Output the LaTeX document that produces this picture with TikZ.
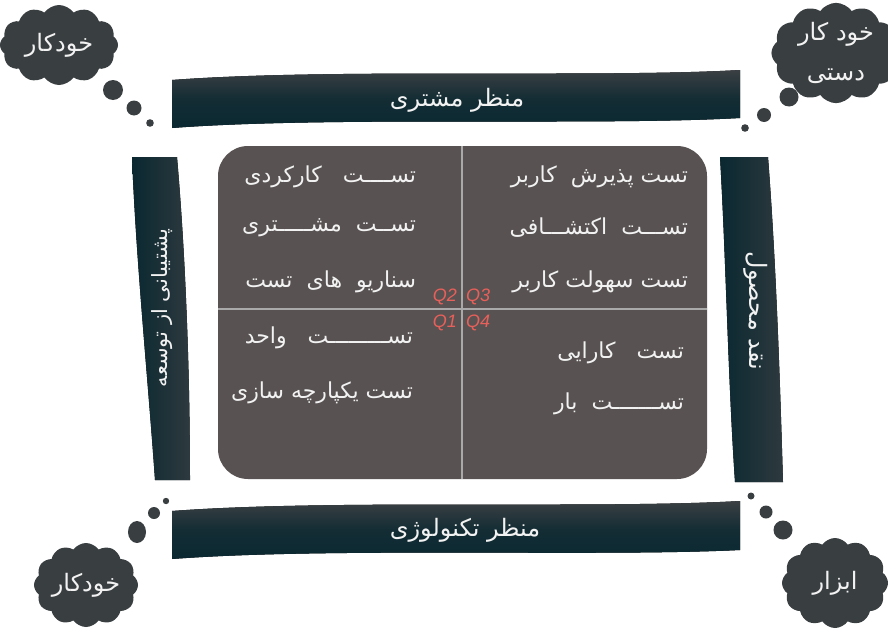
\documentclass[tikz,border=0pt]{standalone}
\usepackage{fontspec}
\usetikzlibrary{shapes.symbols}
\TeXXeTstate=1
\newfontfamily\arabicfont[Script=Arabic]{DejaVu Sans}
\newfontfamily\qfont{Liberation Sans}
\definecolor{boxgray}{HTML}{585252}
\definecolor{cloudgray}{HTML}{393E41}
\definecolor{bandteal}{HTML}{0A2831}
\definecolor{bandgray}{HTML}{3D4144}
\definecolor{qred}{HTML}{E8605A}
\definecolor{linegray}{HTML}{A9A9A9}
\definecolor{textwhite}{HTML}{F2F2F2}
\newcommand{\fatext}[1]{\arabicfont\beginR #1\endR}

\begin{document}
\begin{tikzpicture}[x=1pt,y=-1pt,every node/.style={inner sep=0pt,outer sep=0pt}]
      \tikzstyle{hband}=[top color=bandgray,bottom color=bandteal,middle color=bandteal!80!bandgray]
      \tikzstyle{vband}=[left color=bandteal,right color=bandgray!70!bandteal]
      \tikzstyle{label}=[text=textwhite,font=\fontsize{24}{28}\selectfont]
      \tikzstyle{item}=[text=textwhite,font=\fontsize{22}{26}\selectfont,anchor=east]
      \tikzstyle{quad}=[text=qred,font=\qfont\itshape\fontsize{18}{22}\selectfont]
      \tikzstyle{thought}=[cloud,cloud puffs=12,cloud puff arc=110,aspect=1.4,fill=cloudgray,text=textwhite,font=\fontsize{24}{28}\selectfont,align=center]
      \tikzstyle{bubble}=[fill=cloudgray]

      \useasboundingbox (0,0) rectangle (888,629);

      \fill [hband] (172,80) .. controls (330,68) and (600,78) .. (740,70) -- (740,118) .. controls (600,126) and (330,116) .. (172,128) -- cycle;
      \fill [hband] (172,511) .. controls (330,499) and (600,509) .. (740,501) -- (740,550) .. controls (600,557) and (330,547) .. (172,559) -- cycle;
      \fill [vband] (132,157) -- (177,157) .. controls (186,260) and (190,380) .. (190,480) -- (155,480) .. controls (148,380) and (136,260) .. (132,157) -- cycle;
      \fill [vband] (720,157) -- (768,157) .. controls (776,260) and (780,380) .. (783,482) -- (735,482) .. controls (728,380) and (726,260) .. (720,157) -- cycle;

      \node (top) at (457,100) [label] {\fatext{منظر مشتری}};
      \node (bottom) at (465,530) [label] {\fatext{منظر تکنولوژی}};
      \node (left) at (162,308) [label,rotate=90,font=\fontsize{21}{25}\selectfont] {\fatext{پشتیبانی از توسعه}};
      \node (right) at (756,311) [label,rotate=-90] {\fatext{نقد محصول}};

      \fill [boxgray,rounded corners=30] (218,146) rectangle (707,479);
      \draw [linegray,line width=1.2] (462,146) -- (462,479);
      \draw [linegray,line width=1.2] (218,309) -- (707,309);

      \node (l1) at (416,177) [item] {\fatext{تســــت~~~کارکردی}};
      \node (l2) at (416,228) [item] {\fatext{تســت~~مشـــــتری}};
      \node (l3) at (416,282) [item] {\fatext{سناریو~~های~~تست}};
      \node (l4) at (413,338) [item] {\fatext{تســـــــــت~~~واحد}};
      \node (l5) at (413,393) [item] {\fatext{تست یکپارچه سازی}};
      \node (r1) at (688,177) [item] {\fatext{تست پذیرش~~کاربر}};
      \node (r2) at (688,228) [item] {\fatext{تســـت~~اکتشـــافی}};
      \node (r3) at (688,282) [item] {\fatext{تست سهولت کاربر}};
      \node (r4) at (684,353) [item] {\fatext{تست~~~کارایی}};
      \node (r5) at (684,404) [item] {\fatext{تســـــــت~~بار}};

      \node (q2) at (457,297) [quad,anchor=east] {Q2};
      \node (q3) at (466,297) [quad,anchor=west] {Q3};
      \node (q1) at (457,323) [quad,anchor=east] {Q1};
      \node (q4) at (466,323) [quad,anchor=west] {Q4};

      \node (c1) at (59,45) [thought,minimum width=118,minimum height=80] {\fatext{خودکار}};
      \node (c2) at (836,53) [thought,minimum width=106,minimum height=86] {\fatext{خود کار}\\[12pt]\fatext{دستی}};
      \node (c3) at (86,585) [thought,minimum width=104,minimum height=84] {\fatext{خودکار}};
      \node (c4) at (835,583) [thought,minimum width=106,minimum height=90] {\fatext{ابزار}};

      \fill [bubble] (113,90) circle (10) (134,108) circle (7.5) (150,123) circle (3.8);
      \fill [bubble] (789,97) circle (9.5) (764,115) circle (7) (745,128) circle (3.8);
      \fill [bubble] (137,532) ellipse (9 and 11) (154,513) circle (6) (166,501) circle (3.2);
      \fill [bubble] (783,530) circle (9.5) (766,512) circle (6.5) (751,496) circle (3.5);
    \end{tikzpicture}
\end{document}
